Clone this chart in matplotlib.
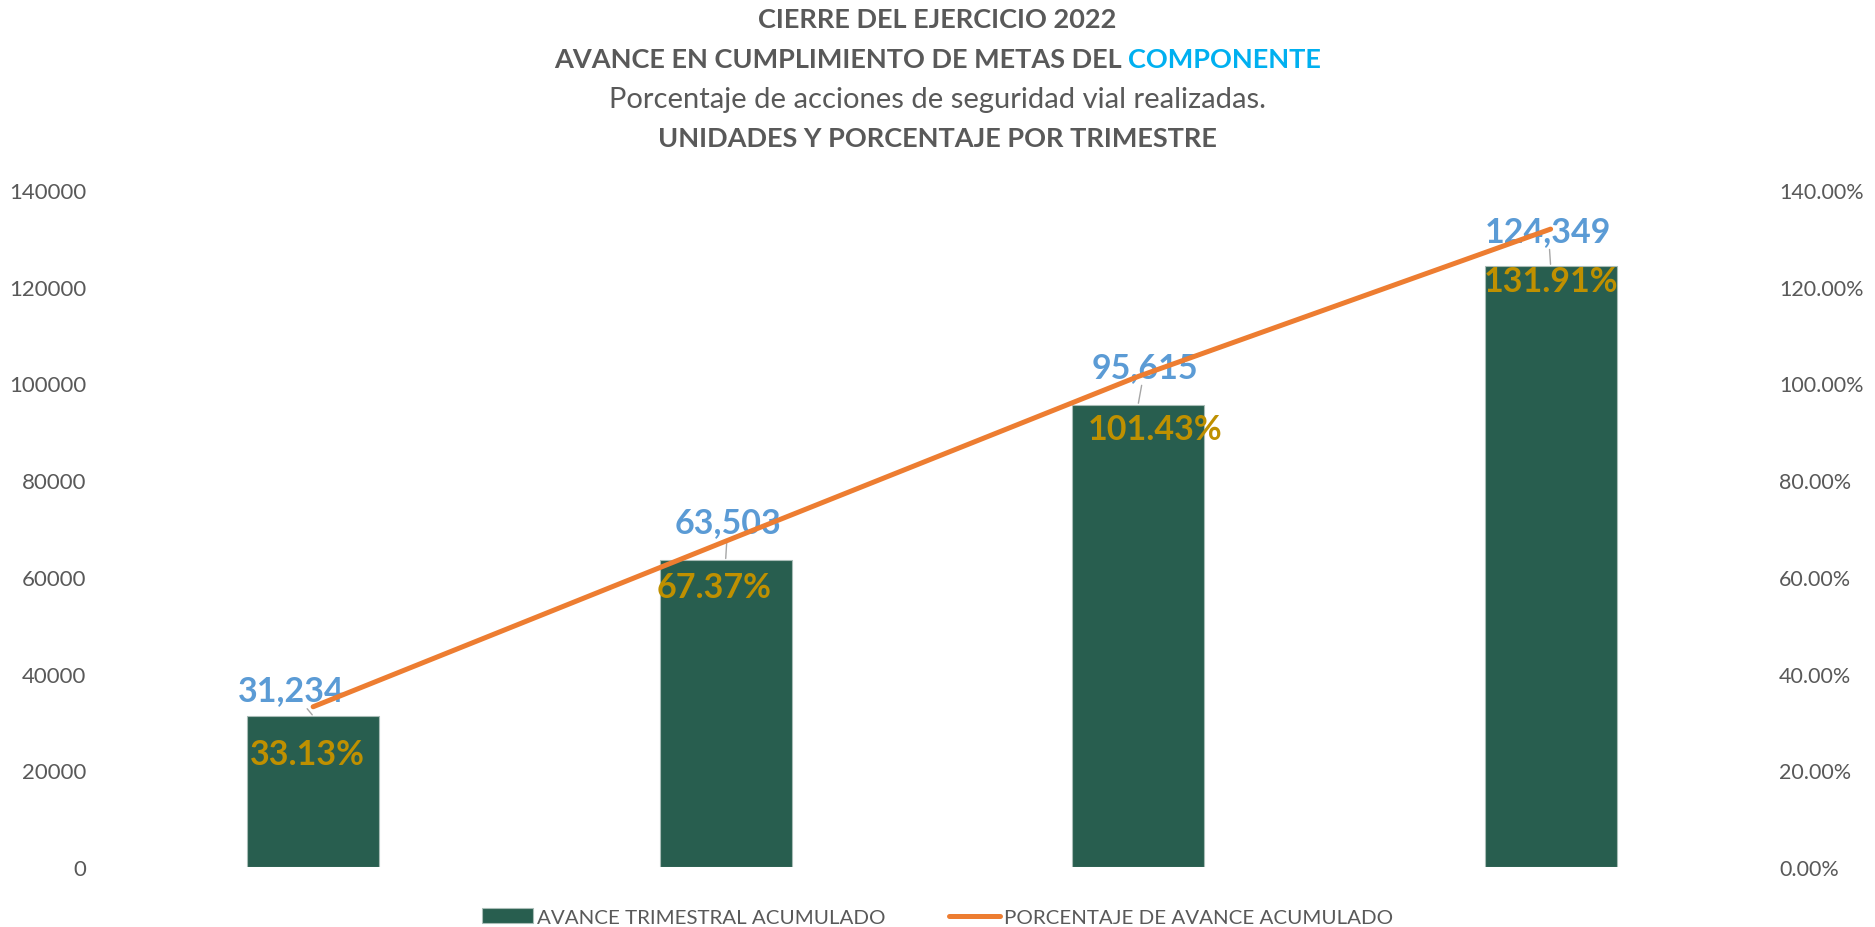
import matplotlib
matplotlib.use("Agg")
import matplotlib.pyplot as plt
import numpy as np
from matplotlib.ticker import FuncFormatter, MultipleLocator

plt.rcParams["font.family"] = ["Lato", "DejaVu Sans"]

# datos
trimestres = ["T1", "T2", "T3", "T4"]
avance = [31234, 63503, 95615, 124349]
porcentaje = [33.13, 67.37, 101.43, 131.91]
etiquetas_avance = ["31,234", "63,503", "95,615", "124,349"]
etiquetas_pct = ["33.13%", "67.37%", "101.43%", "131.91%"]

# desplazamiento de las etiquetas (puntos)
off_avance = [(-15.5, 18.7), (1.7, 27.4), (5, 27.4), (-1.7, 25.2)]
off_pct = [(-4.3, -27.4), (-8.6, -19.8), (12.2, -17.6), (0, -11.2)]

gris = "#595959"
verde = "#285E4F"
naranja = "#ED7D31"
azul = "#5B9BD5"
oro = "#BF9000"

fig = plt.figure(figsize=(18.75, 9.28), dpi=100)
ax = fig.add_axes([0.057, 0.0647, 0.88, 0.7295])
ax2 = ax.twinx()

x = np.arange(len(trimestres))
barras = ax.bar(x, avance, width=0.32, color=verde, edgecolor="#A9BDB7", lw=0.8, zorder=2)
linea, = ax2.plot(x, np.array(porcentaje) / 100, color=naranja, lw=3.6, solid_capstyle="round", zorder=5)

ax.set_xlim(-0.5, 3.5)
ax.set_ylim(0, 140000)
ax2.set_ylim(0, 1.4)
ax.yaxis.set_major_locator(MultipleLocator(20000))
ax2.yaxis.set_major_locator(MultipleLocator(0.2))
ax.yaxis.set_major_formatter(FuncFormatter(lambda v, p: "%d" % v))
ax2.yaxis.set_major_formatter(FuncFormatter(lambda v, p: "%.2f%%" % (v * 100)))
ax.set_xticks([])
for a in (ax, ax2):
	for s in a.spines.values():
		s.set_visible(False)
ax.tick_params(axis="y", length=0, pad=15, labelsize=16, labelcolor=gris)
ax2.tick_params(axis="y", length=0, pad=16, labelsize=15.5, labelcolor=gris)

for i in range(len(avance)):
	ax.annotate(etiquetas_avance[i], xy=(x[i], avance[i]), xytext=off_avance[i], textcoords="offset points",
		ha="center", va="center", fontsize=24.5, fontweight="bold", color=azul, zorder=4,
		arrowprops=dict(arrowstyle="-", color="#A6A6A6", lw=1, shrinkA=0, shrinkB=1))
	ax.annotate(etiquetas_pct[i], xy=(x[i], avance[i]), xytext=off_pct[i], textcoords="offset points",
		ha="center", va="center", fontsize=24.5, fontweight="bold", color=oro, zorder=4)

# titulo
fig.text(0.5, 1 - 20 / 928, "CIERRE DEL EJERCICIO 2022", ha="center", va="center", fontsize=19.5, fontweight="bold", color=gris)
fig.text(0.5, 1 - 100 / 928, "Porcentaje de acciones de seguridad vial realizadas.", ha="center", va="center", fontsize=21, color=gris)
fig.text(0.5, 1 - 139 / 928, "UNIDADES Y PORCENTAJE POR TRIMESTRE", ha="center", va="center", fontsize=19.5, fontweight="bold", color=gris)

y2 = 1 - 60 / 928
t1 = fig.text(0, y2, "AVANCE EN CUMPLIMIENTO DE METAS DEL ", ha="left", va="center", fontsize=19.5, fontweight="bold", color=gris)
t2 = fig.text(0, y2, "COMPONENTE", ha="left", va="center", fontsize=19.5, fontweight="bold", color="#00B0F0")
r = fig.canvas.get_renderer()
w1 = t1.get_window_extent(r).width
w2 = t2.get_window_extent(r).width
W = fig.bbox.width
x0 = (W - w1 - w2) / 2 / W
t1.set_x(x0)
t2.set_x(x0 + w1 / W)

fig.legend([barras, linea], ["AVANCE TRIMESTRAL ACUMULADO", "PORCENTAJE DE AVANCE ACUMULADO"],
	loc="center", bbox_to_anchor=(0.5, 1 - 918 / 928), ncol=2, frameon=False, fontsize=14.75,
	labelcolor=gris, handlelength=2.5, handletextpad=0.2, columnspacing=3.1)

fig.savefig("out.png", dpi=100)
